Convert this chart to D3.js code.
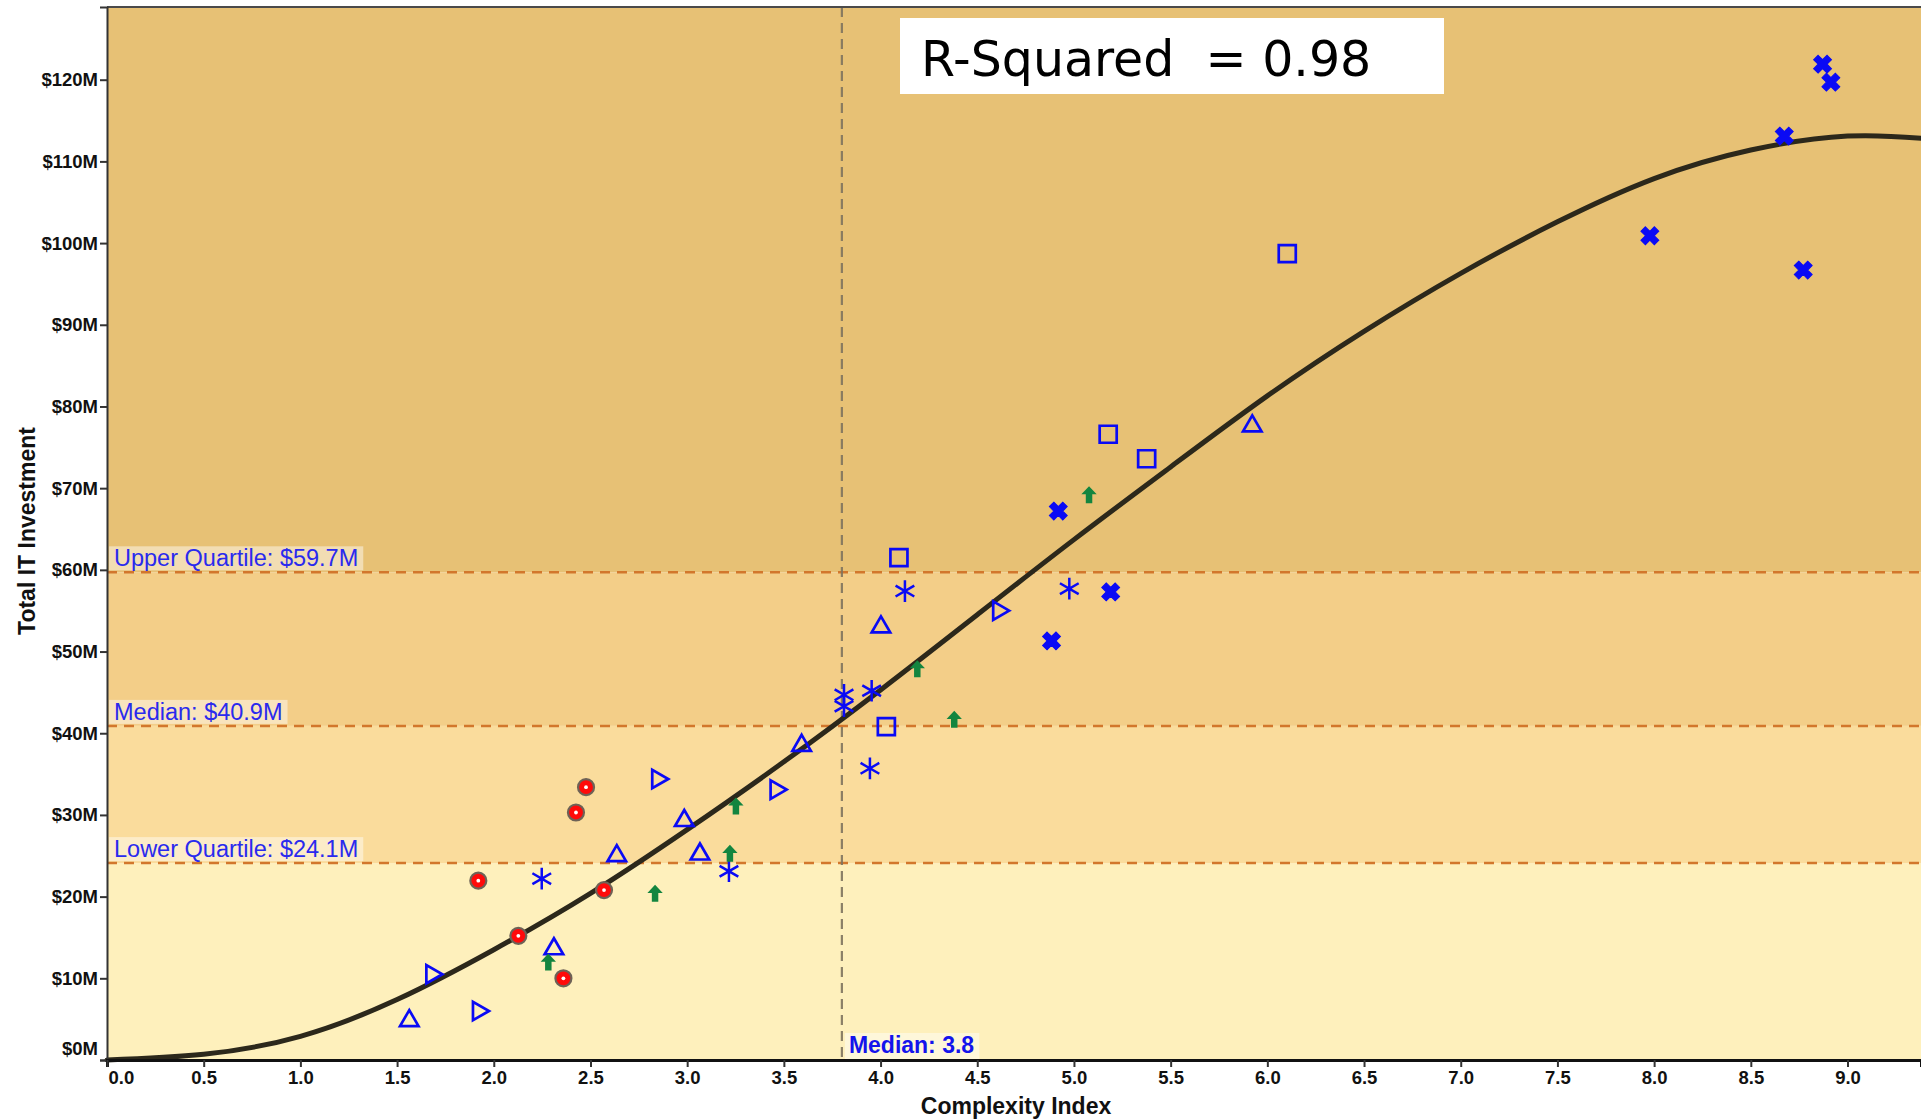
<!DOCTYPE html>
<html>
<head>
<meta charset="utf-8">
<script src="https://cdn.jsdelivr.net/npm/d3@7"></script>
<style>
  html, body { margin: 0; padding: 0; background: #ffffff; overflow: hidden; }
  svg { display: block; }
  .tick text { font-family: Arial, "Liberation Sans", sans-serif; font-weight: bold; font-size: 18.5px; fill: #111; }
</style>
</head>
<body>
<svg id="chart" width="1921" height="1120"></svg>
<script>
// ---------------- DATA ----------------
const yTickValues = [0, 10, 20, 30, 40, 50, 60, 70, 80, 90, 100, 110, 120];
const xTickValues = [0, 0.5, 1, 1.5, 2, 2.5, 3, 3.5, 4, 4.5, 5, 5.5, 6, 6.5, 7, 7.5, 8, 8.5, 9];

const bandBreaks = [0, 24.1, 40.9, 59.7, 129];
const bandColors = ["#FEF0BC", "#FADC9C", "#F3CE88", "#E7C175"];

const quartileValues = [24.1, 40.9, 59.7];
const quartileLabels = ["Lower Quartile: $24.1M", "Median: $40.9M", "Upper Quartile: $59.7M"];

const medianComplexity = 3.8;
const medianComplexityLabel = "Median: 3.8";
const rSquaredLabel = "R-Squared  = 0.98";

// fitted trend curve
const trendX = [0, 0.5, 1.0, 1.5, 2.0, 2.5, 3.0, 3.5, 4.0, 4.5, 5.0, 5.5, 6.0, 6.5, 7.0, 7.5, 8.0, 8.5, 9.0, 9.4];
const trendY = [0, 0.7, 2.9, 7.4, 13.5, 20.4, 28.2, 36.5, 45.3, 54.5, 63.7, 72.6, 81.3, 89.2, 96.3, 102.6, 107.9, 111.4, 113.1, 112.8];

// red target circles
const circleX = [1.92, 2.127, 2.36, 2.425, 2.477, 2.57];
const circleY = [21.95, 15.2, 10.0, 30.3, 33.4, 20.8];

// blue hollow up-triangles
const triUpX = [1.563, 2.311, 2.636, 2.985, 3.066, 3.592, 4.002, 5.922];
const triUpY = [4.8, 13.6, 25.0, 29.3, 25.2, 38.5, 53.0, 77.6];

// blue hollow right-triangles
const triRightX = [1.679, 1.92, 2.847, 3.459, 4.61];
const triRightY = [10.5, 6.0, 34.4, 33.1, 55.0];

// green up arrows
const arrowX = [2.282, 2.834, 3.221, 3.252, 4.19, 4.381, 5.078];
const arrowY = [12.0, 20.4, 25.3, 31.1, 47.9, 41.7, 69.2];

// blue asterisks
const asteriskX = [2.248, 3.216, 3.811, 3.811, 3.954, 3.945, 4.126, 4.976];
const asteriskY = [22.2, 23.1, 44.7, 43.3, 45.2, 35.7, 57.4, 57.7];

// blue hollow squares
const squareX = [4.095, 4.03, 5.177, 5.376, 6.103];
const squareY = [61.5, 40.8, 76.6, 73.6, 98.7];

// blue bold crosses
const crossX = [4.884, 5.19, 4.919, 7.978, 8.673, 8.771, 8.871, 8.914];
const crossY = [51.3, 57.3, 67.2, 100.9, 113.1, 96.7, 121.9, 119.7];

// ---------------- CHART ----------------
const svg = d3.select("#chart");
const plotLeft = 107, plotRight = 1921, plotTop = 7, plotBottom = 1060;

const x = d3.scaleLinear().domain([0, 9.38]).range([plotLeft, plotRight]);
const y = d3.scaleLinear().domain([0, 128.9]).range([plotBottom, plotTop]);

const plot = svg.append("g");

// background bands
plot.selectAll("rect.band")
  .data(d3.range(bandColors.length))
  .join("rect")
  .attr("class", "band")
  .attr("x", plotLeft)
  .attr("width", plotRight - plotLeft)
  .attr("y", i => y(bandBreaks[i + 1]))
  .attr("height", i => y(bandBreaks[i]) - y(bandBreaks[i + 1]))
  .attr("fill", i => bandColors[i]);

// quartile dashed lines
plot.selectAll("line.q")
  .data(quartileValues)
  .join("line")
  .attr("class", "q")
  .attr("x1", plotLeft).attr("x2", plotRight)
  .attr("y1", d => y(d)).attr("y2", d => y(d))
  .attr("stroke", "#D2772C")
  .attr("stroke-width", 2.5)
  .attr("stroke-dasharray", "10,7");

// median vertical line
plot.append("line")
  .attr("x1", x(medianComplexity)).attr("x2", x(medianComplexity))
  .attr("y1", plotTop).attr("y2", plotBottom)
  .attr("stroke", "#7E735E")
  .attr("stroke-opacity", 0.9)
  .attr("stroke-width", 2.2)
  .attr("stroke-dasharray", "10,6");

// quartile labels
quartileValues.forEach((v, i) => {
  const g = plot.append("g");
  const bg = g.append("rect");
  const t = g.append("text")
    .attr("x", 114)
    .attr("y", y(v) - 6)
    .attr("font-family", "Arial, 'Liberation Sans', sans-serif")
    .attr("font-size", 23.5)
    .attr("fill", "#2A2AEE")
    .text(quartileLabels[i]);
  const bb = t.node().getBBox();
  bg.attr("x", bb.x - 5).attr("y", y(v) - 26)
    .attr("width", bb.width + 10).attr("height", 24)
    .attr("fill", "#FFFFFF").attr("fill-opacity", 0.45);
});

// trend curve
const trendData = trendX.map((d, i) => [d, trendY[i]]);
plot.append("path")
  .datum(trendData)
  .attr("fill", "none")
  .attr("stroke", "#2C281B")
  .attr("stroke-width", 5)
  .attr("stroke-linecap", "round")
  .attr("d", d3.line().x(d => x(d[0])).y(d => y(d[1])).curve(d3.curveNatural));

// custom symbol type: up arrow
const arrowSymbol = {
  draw(ctx, size) {
    const s = Math.sqrt(size);
    const hw = s * 0.45, hh = s * 0.48, sw = s * 0.19;
    ctx.moveTo(0, -s / 2);
    ctx.lineTo(hw, -s / 2 + hh);
    ctx.lineTo(sw, -s / 2 + hh);
    ctx.lineTo(sw, s / 2);
    ctx.lineTo(-sw, s / 2);
    ctx.lineTo(-sw, -s / 2 + hh);
    ctx.lineTo(-hw, -s / 2 + hh);
    ctx.closePath();
  }
};

function drawMarkers(xs, ys, type, size, style, rotate) {
  const data = xs.map((d, i) => [d, ys[i]]);
  const sel = plot.append("g").selectAll("path")
    .data(data)
    .join("path")
    .attr("d", d3.symbol().type(type).size(size)())
    .attr("transform", d => `translate(${x(d[0])},${y(d[1])})` + (rotate ? ` rotate(${rotate})` : ""));
  Object.entries(style).forEach(([k, v]) => sel.attr(k, v));
  return sel;
}

// red target circles
const circData = circleX.map((d, i) => [d, circleY[i]]);
const cg = plot.append("g");
cg.selectAll("circle.outer").data(circData).join("circle")
  .attr("class", "outer")
  .attr("cx", d => x(d[0])).attr("cy", d => y(d[1]))
  .attr("r", 8)
  .attr("fill", "#FF0A0A")
  .attr("stroke", "#6E6256")
  .attr("stroke-width", 2.2);
cg.selectAll("circle.inner").data(circData).join("circle")
  .attr("class", "inner")
  .attr("cx", d => x(d[0])).attr("cy", d => y(d[1]))
  .attr("r", 1.9)
  .attr("fill", "#FFFFFF");

// triangles up
drawMarkers(triUpX, triUpY, d3.symbolTriangle2, 245,
  { fill: "none", stroke: "#0A0AF5", "stroke-width": 2.7 }, 0);
// triangles right
drawMarkers(triRightX, triRightY, d3.symbolTriangle2, 245,
  { fill: "none", stroke: "#0A0AF5", "stroke-width": 2.7 }, 90);
// squares
drawMarkers(squareX, squareY, d3.symbolSquare, 290,
  { fill: "none", stroke: "#0A0AF5", "stroke-width": 2.7 }, 0);
// asterisks
drawMarkers(asteriskX, asteriskY, d3.symbolAsterisk, 330,
  { fill: "none", stroke: "#0A0AF5", "stroke-width": 2.5 }, 0);
// bold crosses
drawMarkers(crossX, crossY, d3.symbolCross, 200,
  { fill: "#0A0AF5", stroke: "#0A0AF5", "stroke-width": 1 }, 45);
// green arrows
drawMarkers(arrowX, arrowY, arrowSymbol, 290,
  { fill: "#13853F", stroke: "none" }, 0);

// median complexity label
{
  const g = plot.append("g");
  const bg = g.append("rect");
  const t = g.append("text")
    .attr("x", x(medianComplexity) + 7)
    .attr("y", 1053)
    .attr("font-family", "Arial, 'Liberation Sans', sans-serif")
    .attr("font-size", 23)
    .attr("font-weight", "bold")
    .attr("fill", "#1414EC")
    .text(medianComplexityLabel);
  const bb = t.node().getBBox();
  bg.attr("x", bb.x - 4).attr("y", 1033)
    .attr("width", bb.width + 9).attr("height", 26)
    .attr("fill", "#FFFFFF").attr("fill-opacity", 0.45);
}

// top border
svg.append("line")
  .attr("x1", plotLeft).attr("x2", plotRight)
  .attr("y1", plotTop).attr("y2", plotTop)
  .attr("stroke", "#4A4A4A").attr("stroke-width", 2);

// axes
const yAxis = d3.axisLeft(y)
  .tickValues(yTickValues)
  .tickFormat(d => `$${d}M`)
  .tickSize(7).tickPadding(2);
const yg = svg.append("g").attr("transform", `translate(${plotLeft},0)`).call(yAxis);
yg.select(".domain").attr("stroke", "#333").attr("stroke-width", 2);
yg.selectAll(".tick line").attr("stroke", "#333").attr("stroke-width", 2);
yg.selectAll(".tick text").filter(d => d === 0).attr("dy", "-0.3em");

const xAxis = d3.axisBottom(x)
  .tickValues(xTickValues)
  .tickFormat(d3.format(".1f"))
  .tickSize(7).tickPadding(4);
const xg = svg.append("g").attr("transform", `translate(0,${plotBottom})`).call(xAxis);
xg.select(".domain").attr("stroke", "#111").attr("stroke-width", 3);
xg.selectAll(".tick line").attr("stroke", "#333").attr("stroke-width", 2);
xg.selectAll(".tick text").filter(d => d === 0).attr("dx", "0.75em");

// axis titles
svg.append("text")
  .attr("x", 1016)
  .attr("y", 1114)
  .attr("text-anchor", "middle")
  .attr("font-family", "Arial, 'Liberation Sans', sans-serif")
  .attr("font-size", 23)
  .attr("font-weight", "bold")
  .attr("fill", "#111")
  .text("Complexity Index");

svg.append("text")
  .attr("transform", `translate(35,531) rotate(-90)`)
  .attr("text-anchor", "middle")
  .attr("font-family", "Arial, 'Liberation Sans', sans-serif")
  .attr("font-size", 23)
  .attr("font-weight", "bold")
  .attr("fill", "#111")
  .text("Total IT Investment");

// R-squared box
svg.append("rect")
  .attr("x", 900).attr("y", 18)
  .attr("width", 544).attr("height", 76)
  .attr("fill", "#FFFFFF");
svg.append("text")
  .attr("x", 921).attr("y", 76)
  .attr("font-family", "'DejaVu Sans', Verdana, sans-serif")
  .attr("font-size", 49)
  .attr("fill", "#000")
  .style("white-space", "pre")
  .text(rSquaredLabel);
</script>
</body>
</html>
